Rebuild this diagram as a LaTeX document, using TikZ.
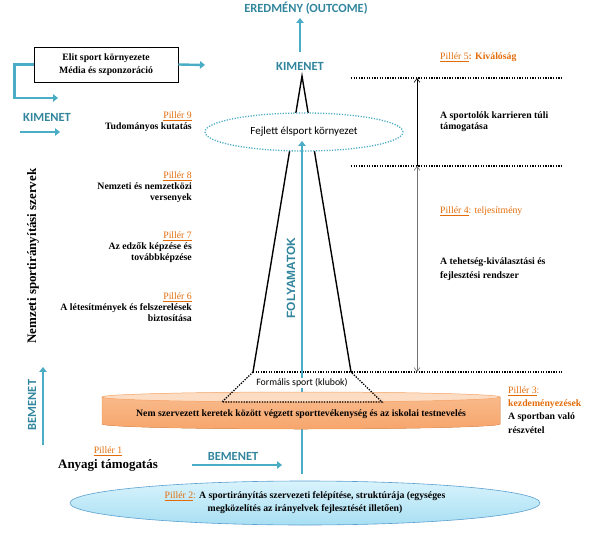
\documentclass[tikz,border=0pt]{standalone}
\usepackage{fontspec}
\setmainfont{Liberation Serif}
\newfontfamily\calibri{Carlito}
\newfontfamily\arialf{Liberation Sans}
\usepackage{xcolor}
\definecolor{flow}{HTML}{4BACC6}
\definecolor{flowtext}{HTML}{31859C}
\definecolor{pillar}{HTML}{E36C09}
\definecolor{disklight}{HTML}{FCDDC4}
\definecolor{diskdark}{HTML}{F7A66C}
\definecolor{diskline}{HTML}{F5A060}
\definecolor{baselight}{HTML}{D8F3FC}
\definecolor{basedark}{HTML}{A8DFF3}
\definecolor{baseline}{HTML}{5A9FCF}
\usepackage{tikz}
\usetikzlibrary{arrows.meta,shapes.geometric}

\newcommand{\pil}[1]{{\mdseries\color{pillar}\underline{Pillér #1}}}

\begin{document}
\begin{tikzpicture}[x=1bp, y=-1bp,
    flowarrow/.style={draw=flow, line width=2.4pt, -{Triangle[width=7.5pt,length=5pt]}},
    flowlabel/.style={font=\calibri\bfseries\fontsize{12.5}{12.5}\selectfont, text=flowtext, inner sep=1pt},
    txt/.style={font=\bfseries\fontsize{9.8}{11}\selectfont, inner sep=1pt},
    level/.style={draw, line width=1.3pt, dash pattern=on 1.3pt off 1.3pt},
    span/.style={draw, line width=0.6pt, -{Straight Barb[length=4pt,width=6pt]}}]
  \useasboundingbox (0,0) rectangle (601,535);

  % Top: outcome
  \node[flowlabel] (ered) at (306,8) {EREDMÉNY (OUTCOME)};
  \node[flowlabel] (kim) at (300,66) {KIMENET};
  \coordinate (kimtop) at (300,52);
  \coordinate (eredbot) at (300,18);
  \draw[flowarrow] (kimtop) -- (eredbot);

  % Pyramid
  \coordinate (apex) at (302,76);
  \coordinate (tl) at (253,372);
  \coordinate (tr) at (351,372);
  \draw[line width=1.4pt] (tl) -- (apex) -- (tr);

  % Levels on the right
  \coordinate (l5a) at (351,78);  \coordinate (l5b) at (562,78);
  \coordinate (l4a) at (351,166); \coordinate (l4b) at (562,166);
  \coordinate (l3b) at (562,372);
  \draw[level] (l5a) -- (l5b);
  \draw[level] (l4a) -- (l4b);
  \draw[level] (tl) -- (l3b);
  \coordinate (s5) at (417,78);
  \coordinate (s4) at (417,166);
  \coordinate (s3) at (417,372);
  \draw[span] (s4) -- (s5);
  \draw[span, draw=black!55, {Straight Barb[length=4pt,width=6pt]}-{Straight Barb[length=4pt,width=6pt]}] (s4) -- (s3);

  % Elite environment
  \node[ellipse, draw=flow, fill=white, line width=1.3pt, dash pattern=on 1.2pt off 1.5pt,
        minimum width=198bp, minimum height=38bp, inner sep=0pt, font=\calibri\fontsize{11}{11}\selectfont]
        (elite) at (304,132) {Fejlett élsport környezet};

  % Processes
  \coordinate (foot) at (302,474);
  \coordinate (tip) at (302,141);
  \draw[flowarrow] (foot) -- (tip);
  \node[font=\arialf\bfseries\fontsize{12}{12}\selectfont, text=flowtext, rotate=90] (proc) at (291,278) {FOLYAMATOK};
  \node[fill=white, inner sep=1pt, font=\calibri\fontsize{9.8}{10}\selectfont] (formal) at (302,383) {Formális sport (klubok)};

  % Disk: unorganised sport
  \fill[top color=diskdark!65!disklight, bottom color=diskdark] (102,397) -- (102,424)
    arc[start angle=180, end angle=0, x radius=199, y radius=5] -- (500,397) -- cycle;
  \draw[diskline, line width=0.5pt] (102,397) -- (102,424)
    arc[start angle=180, end angle=0, x radius=199, y radius=5] -- (500,397);
  \draw[diskline, fill=disklight, line width=0.5pt] (301,397) ellipse[x radius=199, y radius=5];
  \node[txt] (free) at (301,414) {Nem szervezett keretek között végzett sporttevékenység és az iskolai testnevelés};

  % Formal sport trapezoid
  \coordinate (bl) at (222,402);
  \coordinate (br) at (382,402);
  \draw[level] (tl) -- (bl) -- (br) -- (tr);

  % Base: organisation
  \node[ellipse, draw=baseline, top color=baselight, bottom color=basedark, line width=0.6pt,
        minimum width=470bp, minimum height=44bp, inner sep=0pt, txt, font=\bfseries\fontsize{9.8}{13}\selectfont,
        align=center] (base) at (305,503)
        {\pil{2}{\mdseries\color{pillar}:} A sportirányítás szervezeti felépítése, struktúrája (egységes\\megközelítés az irányelvek fejlesztését illetően)};

  % Left: elite box and outputs
  \node[draw, line width=0.8pt, minimum width=144bp, minimum height=35bp, txt, font=\bfseries\fontsize{9.8}{13}\selectfont,
        align=center] (box) at (106,64.5) {Elit sport környezete\\Média és szponzoráció};
  \coordinate (boxout) at (205,65);
  \draw[flowarrow] (box.east) -- (boxout);
  \coordinate (bend) at (58,98);
  \draw[flowarrow] (box.west) -- ++(-19,0) |- (bend);
  \node[flowlabel] (kimleft) at (47,117) {KIMENET};
  \coordinate (ka) at (20,132);
  \coordinate (kb) at (60,132);
  \draw[flowarrow] (ka) -- (kb);

  % Pillars 9-6
  \node[txt, align=right, anchor=east] (p9) at (193,121.5) {\pil{9}\\Tudományos kutatás};
  \node[txt, align=right, anchor=east] (p8) at (193,187.5) {\pil{8}\\Nemzeti és nemzetközi\\versenyek};
  \node[txt, align=right, anchor=east] (p7) at (193,247.5) {\pil{7}\\Az edzők képzése és\\továbbképzése};
  \node[txt, align=right, anchor=east] (p6) at (193,307.5) {\pil{6}\\A létesítmények és felszerelések\\biztosítása};
  \node[font=\bfseries\fontsize{13}{13}\selectfont, rotate=90] (org) at (33,256) {Nemzeti sportirányítási szervek};

  % Inputs
  \node[flowlabel, rotate=90] (bemv) at (32,405) {BEMENET};
  \coordinate (ba) at (43,445);
  \coordinate (bb) at (43,367);
  \draw[flowarrow] (ba) -- (bb);
  \node[txt] (p1) at (108,451) {\pil{1}};
  \node[font=\bfseries\fontsize{13}{13}\selectfont, inner sep=1pt] (money) at (108,465) {Anyagi támogatás};
  \node[flowlabel] (bemh) at (233,456) {BEMENET};
  \coordinate (ha) at (192,465);
  \coordinate (hb) at (282,465);
  \draw[flowarrow] (ha) -- (hb);

  % Pillars 5-3
  \node[txt, anchor=west, text=pillar] (p5) at (439,57) {\pil{5}: Kiválóság};
  \node[txt, anchor=west, align=left] (career) at (439,121.5) {A sportolók karrieren túli\\támogatása};
  \node[txt, anchor=west, text=pillar] (p4) at (439,211) {\pil{4}\mdseries: teljesítmény};
  \node[txt, anchor=west, align=left, font=\bfseries\fontsize{9.8}{14.5}\selectfont] (talent) at (439,269)
    {A tehetség-kiválasztási és\\fejlesztési rendszer};
  \node[txt, anchor=west, align=left, font=\bfseries\fontsize{9.8}{13.3}\selectfont] (p3) at (507,410)
    {\pil{3}{\mdseries\color{pillar}:}\\{\color{pillar}kezdeményezések}\\A sportban való\\részvétel};
\end{tikzpicture}
\end{document}
